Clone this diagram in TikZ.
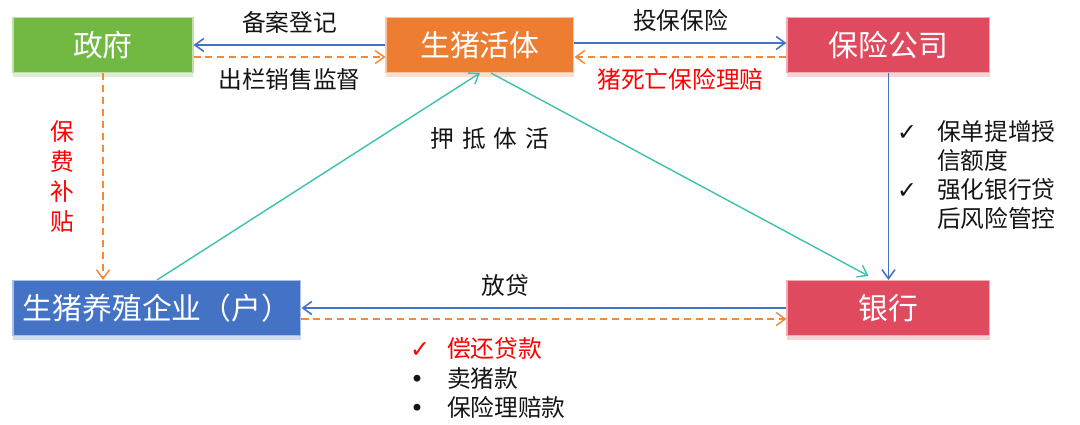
\documentclass[tikz,border=0pt]{standalone}
\usepackage{fontspec}
\setmainfont{Noto Sans CJK SC}
\newfontfamily\symfont{DejaVu Sans}
\usetikzlibrary{arrows.meta, positioning, shadows}
\definecolor{govGreen}{RGB}{114, 185, 68}
\definecolor{pigOrange}{RGB}{237, 125, 49}
\definecolor{insRed}{RGB}{224, 74, 95}
\definecolor{farmBlue}{RGB}{68, 114, 196}
\definecolor{lineBlue}{RGB}{68, 114, 196}
\definecolor{lineOrange}{RGB}{240, 138, 60}
\definecolor{lineTeal}{RGB}{60, 192, 176}
\definecolor{textMain}{RGB}{20, 20, 20}
\definecolor{noteRed}{RGB}{255, 0, 0}

\begin{document}
\begin{tikzpicture}[
    x=0.02cm, y=-0.02cm,
    entityNode/.style={rectangle, fill=#1, draw=#1!45!white, line width=0.6pt, text=white, minimum height=1.1cm, inner sep=1pt, font=\fontsize{17}{20}\selectfont, drop shadow={fill=#1!70!white, opacity=0.35, shadow xshift=0pt, shadow yshift=-1mm}},
    labelText/.style={text=textMain, inner sep=1pt, font=\fontsize{13.5}{16}\selectfont},
    blueArrow/.style={-{Straight Barb[length=1.8mm, width=2.6mm]}, line width=0.9pt, draw=lineBlue},
    orangeArrow/.style={-{Straight Barb[length=1.8mm, width=2.6mm]}, line width=0.85pt, draw=lineOrange, dash pattern=on 4pt off 2.8pt},
    tealArrow/.style={-{Straight Barb[length=1.8mm, width=2.6mm]}, line width=0.8pt, draw=lineTeal}
  ]
    \useasboundingbox (0,0) rectangle (1080,425);

    % Top row
    \node[entityNode=govGreen, minimum width=3.6cm] (gov) at (103,45) {政府};
    \node[entityNode=pigOrange, minimum width=3.76cm, right=3.84cm of gov] (live) {生猪活体};
    \node[entityNode=insRed, minimum width=4.06cm, right=4.24cm of live] (ins) {保险公司};

    % Bottom row
    \node[entityNode=farmBlue, minimum width=5.76cm, below=4.14cm of gov.south west, anchor=north west] (farm) {生猪养殖企业（户）};
    \node[entityNode=insRed, minimum width=4.06cm, below=4.14cm of ins] (bank) {银行};

    % Free labels
    \node[labelText] (mortgage) at (490,138) {押\hspace{4.5pt}抵\hspace{4.5pt}体\hspace{4.5pt}活};
    \node[labelText, anchor=west, align=left, font=\fontsize{13.5}{16.5}\selectfont] (bankNote) at (895,175)
      {\makebox[0.8cm][l]{\symfont ✓}保单提增授\\
       \makebox[0.8cm][l]{}信额度\\
       \makebox[0.8cm][l]{\symfont ✓}强化银行贷\\
       \makebox[0.8cm][l]{}后风险管控};
    \node[labelText, anchor=west, align=left, font=\fontsize{13.5}{16.7}\selectfont] (repayNote) at (408,378)
      {\makebox[0.74cm][l]{\color{noteRed}\symfont ✓}\textcolor{noteRed}{偿还贷款}\\
       \makebox[0.74cm][l]{\symfont •}卖猪款\\
       \makebox[0.74cm][l]{\symfont •}保险理赔款};

    % Connections
    \draw[blueArrow] (live.west) -- node[labelText, above=5pt] {备案登记} (gov.east);
    \draw[orangeArrow] ([yshift=-0.24cm]gov.east) -- node[labelText, below=5pt] {出栏销售监督} ([yshift=-0.24cm]live.west);
    \draw[blueArrow] ([yshift=0.04cm]live.east) -- node[labelText, above=5pt] {投保保险} ([yshift=0.04cm]ins.west);
    \draw[orangeArrow] ([yshift=-0.24cm]ins.west) -- node[labelText, text=noteRed, below=5pt] {猪死亡保险理赔} ([yshift=-0.24cm]live.east);

    \draw[orangeArrow] (gov.south) -- node[labelText, text=noteRed, left=15pt, align=center, font=\fontsize{13.5}{17}\selectfont] {保\\费\\补\\贴} (gov.south |- farm.north);
    \draw[blueArrow] (ins.south) -- (bank.north);

    \draw[tealArrow] (farm.north) -- (live.south);
    \draw[tealArrow] ([xshift=0.22cm]live.south) -- ([xshift=-0.4cm, yshift=0.08cm]bank.north);

    \draw[blueArrow] (bank.west) -- node[labelText, pos=0.58, above=5pt] {放贷} (farm.east);
    \draw[orangeArrow] ([yshift=-0.22cm]farm.east) -- ([yshift=-0.22cm]bank.west);
  \end{tikzpicture}
\end{document}
